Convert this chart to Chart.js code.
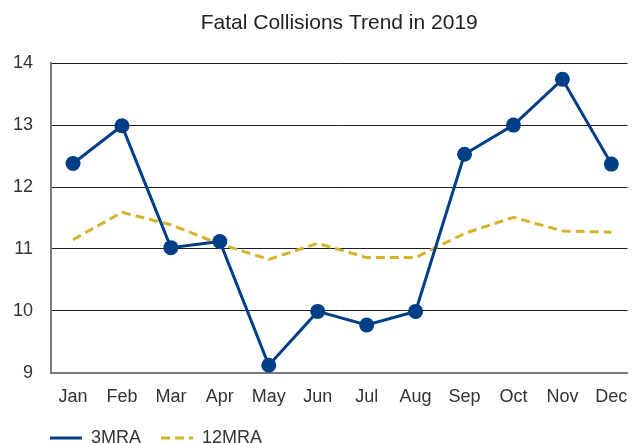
<!DOCTYPE html>
<html>
<head>
<meta charset="utf-8">
<title>Fatal Collisions Trend in 2019</title>
<script src="https://cdn.jsdelivr.net/npm/chart.js@4.4.1/dist/chart.umd.min.js"></script>
<style>
  html,body{margin:0;padding:0;background:#fff;overflow:hidden}
  .chart-box{width:635px;height:443px;position:relative}
</style>
</head>
<body>
<div class="chart-box"><canvas class="trend-chart"></canvas></div>
<script>
const months = ['Jan','Feb','Mar','Apr','May','Jun','Jul','Aug','Sep','Oct','Nov','Dec']
const mra3 = [12.38, 12.99, 11.02, 11.12, 9.12, 9.99, 9.77, 9.99, 12.53, 13.0, 13.74, 12.37]
const mra12 = [11.15, 11.59, 11.39, 11.08, 10.83, 11.09, 10.86, 10.86, 11.25, 11.51, 11.29, 11.27]
const yTicks = [9, 10, 11, 12, 13, 14]

const BLUE = '#003f87'
const GOLD = '#d6b32c'
const labelFont = {family:"'Liberation Sans', Arial, sans-serif", size:18}

// legend sits under the plot, starting at the y axis line
const legendShift = {
    id:'legendShift',
    afterLayout:(chart)=>{
        chart.legend.left += 30
        chart.legend.right += 30
    }
}

const trend_chart = {
    points:(values)=> values.map((v,i)=>({x:i, y:v})),
    legendItems:(chart)=> chart.data.datasets.map((ds,i)=>({
        text:ds.label, datasetIndex:i, hidden:false,
        fillStyle:ds.borderColor, strokeStyle:ds.borderColor, fontColor:'#333',
        lineWidth:ds.borderWidth, lineDash:ds.borderDash || [], pointStyle:'line'
    })),
    init:()=>{
        const object = document.querySelector('.trend-chart')
        new Chart(object, {
            type: 'line',
            data: {
                datasets: [
                    {label:'3MRA', data:trend_chart.points(mra3), borderColor:BLUE, backgroundColor:BLUE,
                        borderWidth:3, pointRadius:7.5, pointBorderWidth:0, pointBackgroundColor:BLUE, tension:0},
                    {label:'12MRA', data:trend_chart.points(mra12), borderColor:GOLD, backgroundColor:GOLD,
                        borderWidth:3, borderDash:[9,5], pointRadius:0, tension:0}
                ]
            },
            plugins:[legendShift],
            options:{
                responsive:true,
                maintainAspectRatio:false,
                animation:false,
                layout:{padding:{left:0, right:7, top:0, bottom:-14}},
                scales:{
                    x:{
                        type:'linear', min:-0.45, max:11.33,
                        afterBuildTicks:(axis)=>{ axis.ticks = months.map((m,i)=>({value:i})) },
                        afterFit:(axis)=>{
                            axis.height = 36.3
                            axis.paddingLeft = 0
                            axis.paddingRight = 0
                        },
                        grid:{display:false, drawTicks:false},
                        border:{display:true, color:'#7a7a7a', width:2},
                        ticks:{autoSkip:false, maxRotation:0, padding:14, color:'#333', font:labelFont,
                            callback:(v)=>months[v]}
                    },
                    y:{
                        min:9, max:14,
                        afterBuildTicks:(axis)=>{ axis.ticks = yTicks.map(v=>({value:v})) },
                        afterFit:(axis)=>{ axis.width = 51 },
                        grid:{drawTicks:false, lineWidth:1,
                            color:(ctx)=> ctx.tick && ctx.tick.value === 9 ? 'rgba(0,0,0,0)' : '#1f1f1f'},
                        border:{display:true, color:'#7a7a7a', width:2},
                        ticks:{padding:18, color:'#333', font:labelFont}
                    }
                },
                plugins:{
                    title:{display:true, text:'Fatal Collisions Trend in 2019', fullSize:false, color:'#222',
                        font:{family:"'Liberation Sans', Arial, sans-serif", size:21, weight:'normal'},
                        padding:{top:11, bottom:27}},
                    legend:{position:'bottom', align:'start',
                        labels:{usePointStyle:true, pointStyleWidth:32, padding:20,
                            color:'#333', font:labelFont, generateLabels:trend_chart.legendItems}},
                    tooltip:{enabled:false}
                }
            }
        })
    }
}
trend_chart.init()
</script>
</body>
</html>
